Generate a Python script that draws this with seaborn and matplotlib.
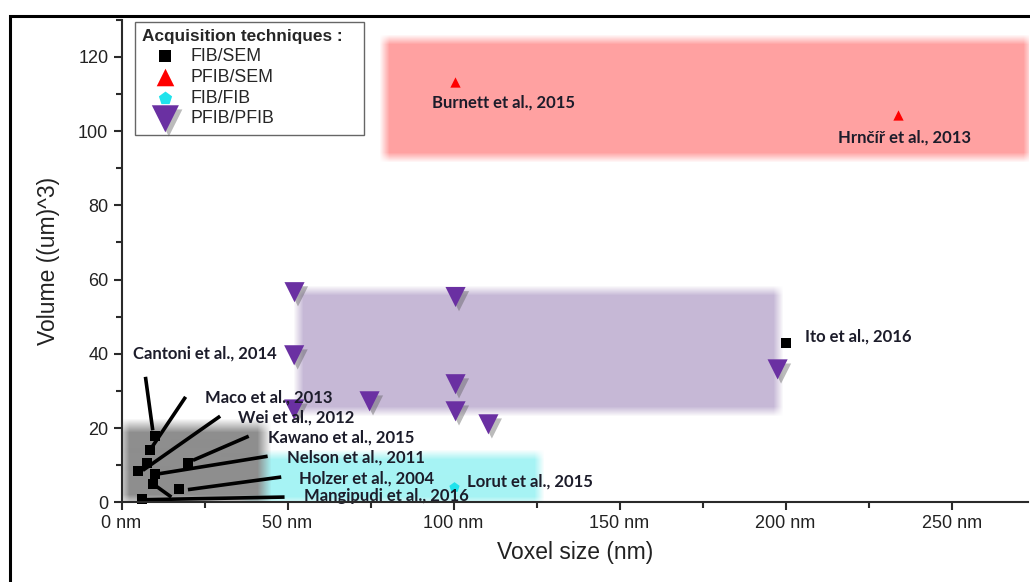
import numpy as np
import pandas as pd
import matplotlib
matplotlib.use("Agg")
import matplotlib.pyplot as plt
import matplotlib.patheffects as pe
from matplotlib.patches import Rectangle
from matplotlib.colors import to_rgb
from matplotlib.ticker import MultipleLocator, FuncFormatter
import seaborn as sns

# --- data ---
fib_sem_x = [10.2, 8.7, 7.7, 5.0, 10.2, 20.1, 9.4, 17.2, 6.1, 200.0]
fib_sem_y = [17.8, 14.0, 10.6, 8.4, 7.5, 10.5, 4.9, 3.7, 1.0, 42.9]
pfib_sem_x = [100.3, 234.0]
pfib_sem_y = [113.2, 104.3]
fib_fib_x = [100.0]
fib_fib_y = [4.0]
pfib_pfib_x = [52.1, 100.6, 52.0, 100.6, 74.7, 52.0, 100.6, 110.5, 197.6]
pfib_pfib_y = [56.6, 55.3, 39.6, 31.8, 27.2, 25.0, 24.5, 21.0, 35.8]

techniques = ["FIB/SEM", "PFIB/SEM", "FIB/FIB", "PFIB/PFIB"]

# shaded zones: x0, x1, y0, y1
zone_red = [79, 273, 92.7, 124.5]
zone_purple = [53, 197.6, 24.3, 57.1]
zone_cyan = [37, 126, 0, 12.7]
zone_gray = [0, 43, 0, 20.5]

# labels (text, x, y)
refs = ["Cantoni et al., 2014", "Maco et al., 2013", "Wei et al., 2012",
        "Kawano et al., 2015", "Nelson et al., 2011", "Holzer et al., 2004",
        "Mangipudi et al., 2016", "Lorut et al., 2015", "Ito et al., 2016",
        "Burnett et al., 2015", "Hrnčíř et al., 2013"]
ref_x = [3.6, 25.0, 35.0, 44.0, 49.7, 53.3, 55.1, 104.2, 206.0, 93.4, 215.7]
ref_y = [40.2, 28.3, 22.9, 17.5, 12.1, 6.5, 1.6, 5.7, 44.7, 107.8, 98.4]

# leader lines: start (x, y) -> end (x, y)
lead_x0 = [7.2, 19.3, 29.7, 38.3, 44.0, 48.1, 49.1, 9.4]
lead_y0 = [33.8, 28.4, 23.2, 17.8, 12.4, 6.8, 1.4, 5.0]
lead_x1 = [9.4, 8.9, 6.4, 21.5, 11.4, 20.0, 7.4, 15.0]
lead_y1 = [19.4, 14.5, 8.6, 11.3, 7.7, 3.4, 0.7, 1.4]

df = pd.DataFrame({
    "voxel": fib_sem_x + pfib_sem_x + fib_fib_x + pfib_pfib_x,
    "volume": fib_sem_y + pfib_sem_y + fib_fib_y + pfib_pfib_y,
    "tech": (["FIB/SEM"] * len(fib_sem_x) + ["PFIB/SEM"] * len(pfib_sem_x)
             + ["FIB/FIB"] * len(fib_fib_x) + ["PFIB/PFIB"] * len(pfib_pfib_x)),
})

colors = {"FIB/SEM": "black", "PFIB/SEM": "#ff0000", "FIB/FIB": "#1fe3ec", "PFIB/PFIB": "#6a30a2"}
markers = {"FIB/SEM": "s", "PFIB/SEM": "^", "FIB/FIB": "p", "PFIB/PFIB": "v"}
sizes = {"FIB/SEM": 50, "PFIB/SEM": 55, "FIB/FIB": 60, "PFIB/PFIB": 210}
leg_sizes = {"FIB/SEM": 75, "PFIB/SEM": 160, "FIB/FIB": 100, "PFIB/PFIB": 380}

sns.set_style("white")
plt.rcParams["font.family"] = ["Liberation Sans", "DejaVu Sans"]

fig = plt.figure(figsize=(10.3, 5.82), dpi=100)
ax = fig.add_axes([0.118, 0.137, 0.88, 0.829])
xmax, ymax = 273, 130

# px -> data
dxp = xmax / (0.88 * 1030)
dyp = ymax / (0.829 * 582)


def soft_box(zone, color, z, w=5):
    # box with blurred edges, drawn as a small rgba image
    x0, x1, y0, y1 = zone
    ex0, ex1 = x0 - w * dxp, x1 + w * dxp
    ey0, ey1 = y0 - w * dyp, y1 + w * dyp
    nx = int((ex1 - ex0) / dxp) + 1
    ny = int((ey1 - ey0) / dyp) + 1
    xs = np.linspace(ex0, ex1, nx)
    ys = np.linspace(ey0, ey1, ny)
    ax_ = np.clip((xs - ex0) / (2 * w * dxp), 0, 1) * np.clip((ex1 - xs) / (2 * w * dxp), 0, 1)
    ay_ = np.clip((ys - ey0) / (2 * w * dyp), 0, 1) * np.clip((ey1 - ys) / (2 * w * dyp), 0, 1)
    alpha = np.outer(ay_, ax_)
    img = np.zeros((ny, nx, 4))
    img[..., :3] = to_rgb(color)
    img[..., 3] = alpha
    ax.imshow(img, extent=(ex0, ex1, ey0, ey1), origin="lower", aspect="auto",
              interpolation="bilinear", zorder=z)


soft_box(zone_red, "#ffa1a1", 1)
soft_box(zone_purple, "#c6b8d6", 1)
soft_box(zone_cyan, "#a6f3f4", 1)
soft_box(zone_gray, "#8e8e8e", 1.1, w=7)

for xa, ya, xb, yb in zip(lead_x0, lead_y0, lead_x1, lead_y1):
    ax.plot([xa, xb], [ya, yb], color="black", lw=2.6, solid_capstyle="butt", zorder=3)

for t in techniques:
    sub = df[df["tech"] == t]
    sns.scatterplot(data=sub, x="voxel", y="volume", ax=ax, color=colors[t],
                    marker=markers[t], s=sizes[t], linewidth=0, label=t, zorder=4,
                    clip_on=False)
    if t == "PFIB/PFIB":
        ax.collections[-1].set_path_effects(
            [pe.SimplePatchShadow(offset=(2.5, -3), shadow_rgbFace="#555555", alpha=0.4),
             pe.Normal()])

for txt, tx, ty in zip(refs, ref_x, ref_y):
    ax.text(tx, ty, txt, fontsize=12, fontweight="bold", color="#1c1c2a",
            family=["Lato", "DejaVu Sans"], va="center", ha="left", zorder=5)

ax.set_xlim(0, xmax)
ax.set_ylim(0, ymax)

# axes styling
for s in ["top", "right"]:
    ax.spines[s].set_visible(False)
for s in ["left", "bottom"]:
    ax.spines[s].set_color("#2a2a2a")
    ax.spines[s].set_linewidth(1.5)
    ax.spines[s].set_zorder(6)
ax.xaxis.set_major_locator(MultipleLocator(50))
ax.xaxis.set_minor_locator(MultipleLocator(25))
ax.yaxis.set_major_locator(MultipleLocator(20))
ax.yaxis.set_minor_locator(MultipleLocator(10))
ax.xaxis.set_major_formatter(FuncFormatter(lambda v, p: f"{int(v)} nm"))
ax.tick_params(which="major", direction="out", length=6, width=1.5, color="#2a2a2a",
               labelsize=13, labelcolor="#222222", left=True, bottom=True)
ax.tick_params(which="minor", direction="out", length=4, width=1.5, color="#2a2a2a",
               left=True, bottom=True)
ax.set_xlabel("Voxel size (nm)", fontsize=16.5, color="#222222", labelpad=6)
ax.set_ylabel("Volume ((um)^3)", fontsize=16.5, color="#222222", labelpad=13)

leg = ax.legend(title="Acquisition techniques :", loc="upper left",
                bbox_to_anchor=(0.015, 0.996, 0.253, 0.0), mode="expand", borderaxespad=0,
                fancybox=False, edgecolor="#666666", framealpha=1, fontsize=12.8,
                title_fontsize=12.4, borderpad=0.4, labelspacing=0.22, handletextpad=0.1,
                handlelength=2.6)
leg.get_title().set_fontweight("bold")
leg._legend_box.align = "left"
leg.get_frame().set_linewidth(1.0)
leg.set_zorder(7)
for h, t in zip(leg.legend_handles, techniques):
    h.set_sizes([leg_sizes[t]])
leg.legend_handles[-1].set_path_effects(
    [pe.SimplePatchShadow(offset=(2.5, -3), shadow_rgbFace="#555555", alpha=0.4), pe.Normal()])

# outer frame of the original figure
fig.patches.append(Rectangle((0.0097, -0.05), 1.2, 0.9725 + 0.05, transform=fig.transFigure,
                             fill=False, edgecolor="black", lw=2.2))

fig.savefig("out.png", dpi=100)
